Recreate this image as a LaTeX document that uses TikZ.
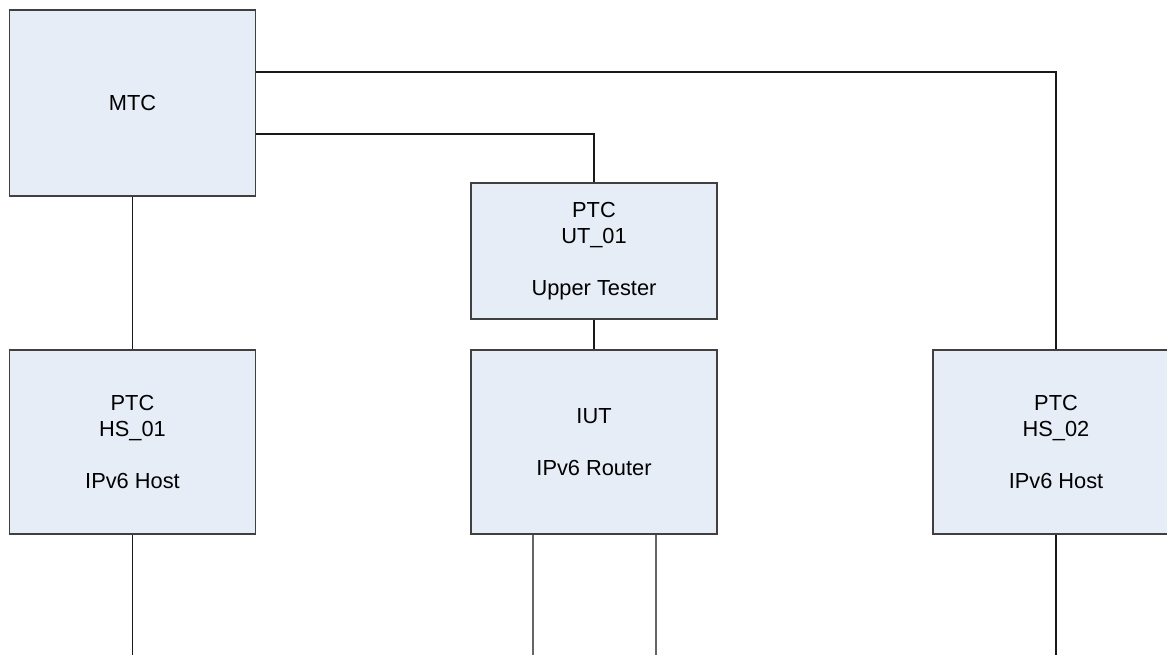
\documentclass[tikz,border=0pt]{standalone}
\usepackage{fontspec}
\setmainfont{Liberation Sans}
\usepackage{tikz}

\definecolor{boxfill}{RGB}{230,237,247}
\definecolor{boxline}{RGB}{64,64,64}

\begin{document}
\begin{tikzpicture}[x=0.01cm,y=-0.01cm]
        \tikzstyle{every node}+=[inner sep=0pt]
        \tikzstyle{ptc}=[draw=boxline, fill=boxfill, line width=0.45pt,
          minimum width=2.46cm, align=center, font=\fontsize{6.2}{7.45}\selectfont]
        \tikzstyle{wire}=[draw=black!90, line width=0.4pt]
        \useasboundingbox (0,0) rectangle (1167,655);
        \clip (0,0) rectangle (1167,655);
        % components
        \node [ptc, minimum height=1.86cm] (MTC) at (132.5,103) {MTC};
        \node [ptc, minimum height=1.36cm] (UT01) at (594,251) {PTC\\UT\_01\\[7.45pt]Upper Tester};
        \node [ptc, minimum height=1.84cm] (HS01) at (132.5,442) {PTC\\HS\_01\\[7.45pt]IPv6 Host};
        \node [ptc, minimum height=1.84cm] (IUT) at (594,442) {IUT\\[7.45pt]IPv6 Router};
        \node [ptc, minimum height=1.84cm] (HS02) at (1056,442) {PTC\\HS\_02\\[7.45pt]IPv6 Host};
        % free ends at the bottom
        \coordinate (endhs1) at (132.5,655);
        \coordinate (endr1) at (533,655);
        \coordinate (endr2) at (656,655);
        \coordinate (endhs2) at (1056,655);
        % connections
        \draw [wire] ([yshift=0.31cm]MTC.east) -| (HS02.north);
        \draw [wire] ([yshift=-0.31cm]MTC.east) -| (UT01.north);
        \draw [wire] (MTC.south) -- (HS01.north);
        \draw [wire] (UT01.south) -- (IUT.north);
        \draw [wire] (HS01.south) -- (endhs1);
        \draw [wire, draw=black!60] (endr1 |- IUT.south) -- (endr1);
        \draw [wire, draw=black!60] (endr2 |- IUT.south) -- (endr2);
        \draw [wire] (HS02.south) -- (endhs2);
\end{tikzpicture}
\end{document}
